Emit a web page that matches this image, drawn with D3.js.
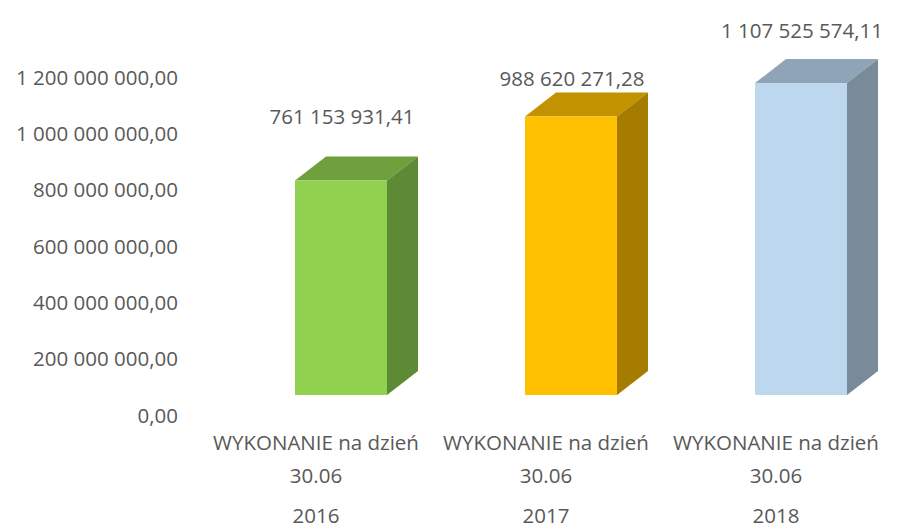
<!DOCTYPE html>
<html>
<head>
<meta charset="utf-8">
<script src="https://cdn.jsdelivr.net/npm/d3@7"></script>
<style>
  body { margin: 0; background: #fff; }
  text { font-family: "Open Sans", "Noto Sans", sans-serif; fill: #595959; }
</style>
</head>
<body>
<svg width="897" height="530"></svg>
<script>
var years = ["2016", "2017", "2018"];
var catLines = ["WYKONANIE na dzień", "30.06"];
var values = [761153931.41, 988620271.28, 1107525574.11];
var yTicks = [0, 200e6, 400e6, 600e6, 800e6, 1000e6, 1200e6];
var frontColors = ["#92d050", "#ffc000", "#bdd7ee"];
var topColors = ["#6fa03d", "#c39200", "#8fa4b6"];
var sideColors = ["#5e8a35", "#a67c00", "#798a99"];
var labelLift = [64, 38, 52];
var fs = "20.5px";

var svg = d3.select("svg");
var pl = d3.formatLocale({decimal: ",", thousands: " ", grouping: [3], currency: ["", ""]});
var fmt = pl.format(",.2f");

var x = d3.scaleBand().domain(years).range([226, 916]).paddingInner(0.6).paddingOuter(0.3);
var y = d3.scaleLinear().domain([0, 1200e6]).range([415, 77]);
var front = -20, dx = 31, dy = -24;

var yAxis = svg.append("g")
  .attr("transform", "translate(178,0)")
  .call(d3.axisLeft(y).tickValues(yTicks).tickSize(0).tickPadding(0).tickFormat(fmt));
yAxis.select(".domain").remove();
yAxis.selectAll("text").style("font-size", fs).attr("dy", "0.35em").attr("fill", "#595959");

var bars = svg.append("g").selectAll("g").data(values).enter().append("g");

// top face
bars.append("path")
  .attr("fill", function(d, i) { return topColors[i]; })
  .attr("d", function(d, i) {
    var x0 = x(years[i]), x1 = x0 + x.bandwidth(), yt = y(d) + front;
    return "M" + x0 + "," + yt + "L" + (x0 + dx) + "," + (yt + dy) + "L" + (x1 + dx) + "," + (yt + dy) + "L" + x1 + "," + yt + "Z";
  });
// side face
bars.append("path")
  .attr("fill", function(d, i) { return sideColors[i]; })
  .attr("d", function(d, i) {
    var x1 = x(years[i]) + x.bandwidth(), yt = y(d) + front, yb = y(0) + front;
    return "M" + x1 + "," + yt + "L" + (x1 + dx) + "," + (yt + dy) + "L" + (x1 + dx) + "," + (yb + dy) + "L" + x1 + "," + yb + "Z";
  });
// front face
bars.append("rect")
  .attr("fill", function(d, i) { return frontColors[i]; })
  .attr("x", function(d, i) { return x(years[i]); })
  .attr("y", function(d) { return y(d) + front; })
  .attr("width", x.bandwidth())
  .attr("height", function(d) { return y(0) - y(d); });

// data labels
bars.append("text")
  .attr("text-anchor", "middle")
  .attr("dy", "0.35em")
  .style("font-size", fs)
  .attr("x", function(d, i) { return x(years[i]) + x.bandwidth() / 2 + 1; })
  .attr("y", function(d, i) { return y(d) + front - labelLift[i]; })
  .text(function(d) { return fmt(d); });

// category labels
var cats = svg.append("g").selectAll("g").data(years).enter().append("g")
  .attr("transform", function(d) { return "translate(" + (x(d) + x.bandwidth() / 2 - 25) + ",0)"; });
cats.append("text").attr("text-anchor", "middle").attr("y", 443).attr("dy", "0.35em")
  .style("font-size", fs).text(catLines[0]);
cats.append("text").attr("text-anchor", "middle").attr("y", 476).attr("dy", "0.35em")
  .style("font-size", fs).text(catLines[1]);
cats.append("text").attr("text-anchor", "middle").attr("y", 516).attr("dy", "0.35em")
  .style("font-size", fs).text(function(d) { return d; });
</script>
</body>
</html>
